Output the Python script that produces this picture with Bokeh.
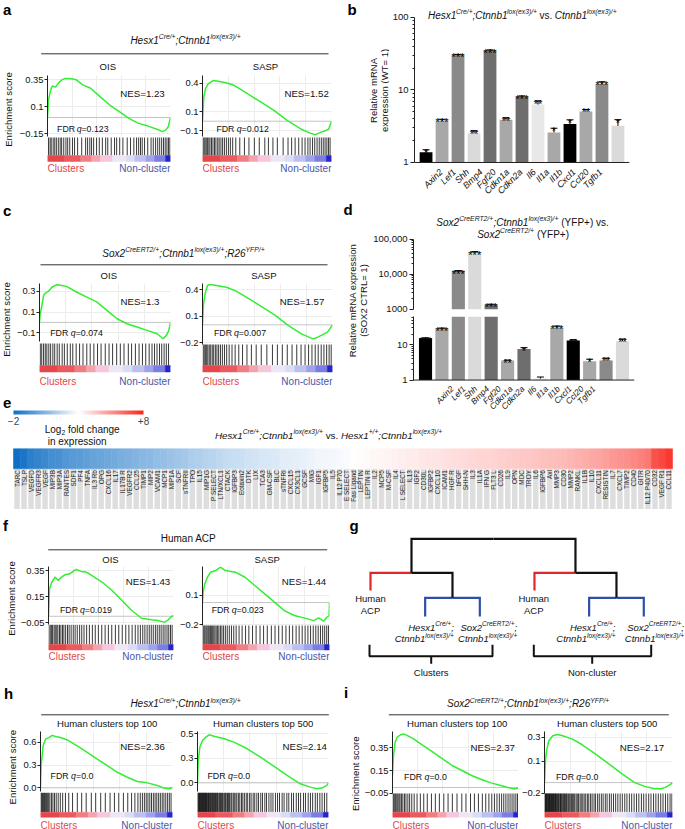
import math
from bokeh.plotting import figure
from bokeh.models import (Range1d, FactorRange, FixedTicker, Label, LabelSet, Span, Whisker,
                          TeeHead, ColumnDataSource, LinearColorMapper, ColorBar, LinearScale)
from bokeh.layouts import row, column
from bokeh.embed import file_html
from bokeh.resources import INLINE
from bokeh.core.properties import value

# ============================== DATA ==============================
GENES = ["Axin2", "Lef1", "Shh", "Bmp4", "Fgf20", "Cdkn1a", "Cdkn2a", "Il6", "Il1a", "Il1b", "Cxcl1", "Ccl20", "Tgfb1"]
GENE_GREYS = ["#000000", "#a8a8a8", "#8a8a8a", "#dadada", "#6e6e6e", "#a8a8a8", "#6e6e6e",
              "#e8e8e8", "#a8a8a8", "#000000", "#a8a8a8", "#8a8a8a", "#dadada"]

# panel b  (relative mRNA expression, WT = 1)
B_MEAN = [1.39, 3.8, 30.6, 2.54, 35.0, 3.88, 8.1, 6.3, 2.6, 3.4, 5.05, 12.2, 3.2]
B_UPPER = [1.5, 3.95, 31.0, 2.75, 35.8, 4.15, 8.3, 7.1, 2.97, 3.88, 5.4, 13.0, 3.9]
B_SIG = ["*", "***", "***", "**", "***", "**", "***", "**", "*", "*", "**", "***", "*"]
B_TICKS = [1, 10, 100]
B_TICK_LABELS = ["1", "10", "100"]
B_MINOR = [2, 3, 4, 5, 6, 7, 8, 9, 20, 30, 40, 50, 60, 70, 80, 90]

# panel d  (relative mRNA expression, SOX2 CTRL = 1)
D_MEAN = [15.2, 28.9, 12700, 44200, 1350, 3.6, 7.55, 1.1, 30.8, 13.2, 3.4, 3.6, 12.6]
D_UPPER = [15.8, 29.8, 12800, 44600, 1400, 3.7, 8.3, 1.22, 34.0, 14.0, 3.9, 4.2, 14.6]
D_SIG = ["***", "***", "***", "***", "***", "**", "*", "", "***", "**", "*", "**", "**"]
D_TICKS_HIGH = [1000, 10000, 100000]
D_LABELS_HIGH = ["1000", "10,000", "100,000"]
D_MINOR_HIGH = [2000, 3000, 4000, 5000, 6000, 7000, 8000, 9000,
                20000, 30000, 40000, 50000, 60000, 70000, 80000, 90000]
D_TICKS_LOW = [1, 10]
D_LABELS_LOW = ["1", "10"]
D_MINOR_LOW = [2, 3, 4, 5, 6, 7, 8, 9, 20, 30, 40, 50, 60]

# panel e  (log2 fold change)
E_LABELS = ["TARC", "TSLP", "VEGFD", "VEGFR3", "VEGF", "MIP3B", "MIP3A", "RANTES", "SDF1", "PF4",
            "TNFA", "IL3 Rb", "OPG", "CXCL16", "IL17", "IL17B R", "VEGFR2", "CCL25", "TIMP1", "MIP2",
            "VCAM1", "MCP1", "MIP1A", "SCF", "sTNFRII", "TPO", "IL15", "MIP1G", "P SELECT", "LTN/XCL1",
            "CTACK", "IGFBP3", "Eotaxin2", "DTK", "LIX", "TCA3", "GM-CSF", "BLC", "sTNFRI", "CXCL15",
            "CX3CL1", "GCSF", "MIG", "IGF1", "IGFBP5", "IL5", "IL12 P70", "E SELECT",
            "Fas Ligand", "LEPTIN", "LEPTIN R", "IL2", "MCP5", "M-CSF", "IL4", "L SELECT", "IL13", "IGF2",
            "CD30L", "IGFBP2", "CXCL10", "ICAM1", "HGF R", "bFGF", "SHH-N", "IL3", "IL1A", "IFN G",
            "FLT3 L", "CD26", "IL9", "OPN", "MDC", "TROY", "IL6", "IGFBP6", "Axl", "MMP3", "CD30",
            "MMP2", "RANKL", "IL1B", "IL10", "CXCL11", "RESISTIN", "IL7", "CXCL7", "TIMP2", "CD40",
            "GITR", "IL12 P40/70", "CD32", "VEGF R1", "CCL11"]
E_LOG2FC = [-2.0, -1.75, -1.4, -1.25, -1.1, -0.9, -0.8, -0.6, -0.5, -0.4, -0.3, -0.2, -0.1, 0.0,
            0.1, 0.2, 0.3, 0.4, 0.5, 0.6, 0.7, 0.8, 0.9, 1.0, 1.1, 1.25, 1.35, 1.45, 1.55, 1.65,
            1.75, 1.85, 1.9, 2.0, 2.05, 2.15, 2.2, 2.25, 2.35, 2.4, 2.45, 2.5, 2.6, 2.65, 2.7, 2.75,
            2.8, 2.85,
            3.05, 3.1, 3.15, 3.2, 3.25, 3.3, 3.35, 3.4, 3.45, 3.5, 3.55, 3.6, 3.65, 3.7, 3.75, 3.8,
            3.85, 3.9, 3.95, 4.0, 4.05, 4.1, 4.15, 4.2, 4.25, 4.3, 4.35, 4.45, 4.5, 4.55, 4.6, 4.7,
            4.8, 4.9, 5.0, 5.1, 5.25, 5.4, 5.5, 5.6, 5.75, 5.9, 6.1, 7.0, 7.25, 7.6]
E_LOW, E_HIGH = -2, 8
E_TICKS = [-2, 8]
E_TICK_LABELS = ["\u22122", "+8"]

# GSEA running enrichment scores: rank (% of list) and ES
A_OIS_RANK = [0, 0.8, 2.6, 3.9, 6.5, 9.1, 11.7, 14.3, 19.5, 23.4, 28.6, 35.1, 42.9, 50.6, 58.4, 66.2, 74.0, 81.8, 89.6, 93.5, 96.1, 98.2, 100]
A_OIS_ES = [0.0, 0.16, 0.254, 0.29, 0.28, 0.32, 0.347, 0.36, 0.356, 0.347, 0.30, 0.27, 0.19, 0.115, 0.054, -0.008, -0.054, -0.079, -0.11, -0.13, -0.116, -0.085, 0.0]
A_SASP_RANK = [0, 1.0, 2.3, 4.4, 8.2, 12.1, 19.7, 24.9, 35.1, 45.4, 55.6, 65.9, 76.2, 83.8, 87.7, 91.5, 95.4, 97.9, 100]
A_SASP_ES = [0.0, 0.252, 0.34, 0.393, 0.428, 0.421, 0.40, 0.375, 0.287, 0.20, 0.111, 0.006, -0.082, -0.128, -0.142, -0.118, -0.10, -0.082, 0.0]
C_OIS_RANK = [0, 0.5, 1.8, 3.1, 4.3, 6.9, 9.4, 13.3, 17.1, 20.9, 28.6, 36.2, 43.9, 51.5, 59.2, 66.8, 74.5, 82.1, 89.8, 94.4, 96.9, 98.7, 100]
C_OIS_ES = [0.0, 0.08, 0.16, 0.26, 0.28, 0.30, 0.338, 0.363, 0.354, 0.344, 0.29, 0.243, 0.195, 0.115, 0.035, -0.013, -0.045, -0.077, -0.109, -0.157, -0.125, -0.077, 0.0]
C_SASP_RANK = [0, 0.8, 2.0, 3.8, 5.8, 10.8, 18.3, 25.9, 35.9, 46.0, 56.0, 66.1, 76.1, 84.9, 88.7, 92.5, 96.2, 100]
C_SASP_ES = [0.0, 0.238, 0.351, 0.445, 0.457, 0.445, 0.426, 0.381, 0.294, 0.2, 0.106, -0.008, -0.102, -0.159, -0.14, -0.11, -0.083, 0.0]
F_OIS_RANK = [0, 0.8, 2.6, 5.2, 7.8, 10.4, 13.1, 17.0, 19.6, 22.2, 26.1, 30.0, 32.6, 37.9, 43.1, 50.9, 58.7, 66.6, 74.4, 82.2, 87.5, 92.7, 95.3, 97.9, 100]
F_OIS_ES = [0.0, 0.21, 0.26, 0.30, 0.274, 0.30, 0.317, 0.325, 0.343, 0.358, 0.343, 0.338, 0.325, 0.292, 0.26, 0.197, 0.12, 0.044, -0.015, -0.027, -0.032, -0.045, -0.032, -0.006, 0.007]
F_SASP_RANK = [0, 0.5, 1.8, 3.9, 6.4, 10.3, 14.2, 18.0, 25.8, 33.5, 41.2, 49.0, 56.7, 64.4, 72.2, 79.9, 87.6, 91.5, 95.4, 97.9, 99.7, 100]
F_SASP_ES = [0.0, 0.084, 0.151, 0.205, 0.246, 0.259, 0.286, 0.259, 0.246, 0.205, 0.138, 0.07, 0.003, -0.065, -0.105, -0.124, -0.146, -0.124, -0.151, -0.119, -0.105, 0.0]
H_100_RANK = [0, 0.3, 0.5, 2.0, 3.8, 6.3, 8.9, 11.4, 15.2, 20.3, 27.8, 35.4, 43.0, 50.6, 58.2, 65.8, 73.4, 81.0, 88.6, 93.7, 97.5, 100]
H_100_ES = [0.0, 0.2, 0.29, 0.552, 0.64, 0.66, 0.69, 0.674, 0.661, 0.63, 0.552, 0.465, 0.378, 0.291, 0.204, 0.139, 0.083, 0.065, 0.03, -0.004, -0.013, 0.004]
H_500_RANK = [0, 0.5, 1.8, 3.8, 6.3, 8.9, 12.7, 20.3, 27.8, 38.0, 48.1, 58.2, 68.4, 78.5, 86.1, 91.1, 94.9, 98.7, 100]
H_500_ES = [0.0, 0.21, 0.364, 0.432, 0.466, 0.49, 0.476, 0.449, 0.415, 0.347, 0.262, 0.17, 0.075, -0.01, -0.044, -0.061, -0.054, -0.027, 0.0]
I_100_RANK = [0, 0.8, 2.1, 3.8, 6.4, 9.0, 11.5, 16.7, 24.4, 32.1, 39.7, 47.4, 55.1, 62.8, 70.5, 78.2, 85.9, 91.0, 96.2, 100]
I_100_ES = [0.106, 0.282, 0.4, 0.444, 0.465, 0.471, 0.459, 0.429, 0.37, 0.312, 0.253, 0.194, 0.15, 0.106, 0.071, 0.041, 0.018, 0.003, -0.012, -0.006]
I_500_RANK = [0, 0.3, 0.8, 1.8, 3.3, 6.4, 10.3, 14.1, 21.8, 29.5, 39.7, 50.0, 60.3, 70.5, 78.2, 85.9, 91.0, 94.9, 98.7, 100]
I_500_ES = [0.0, 0.05, 0.15, 0.22, 0.275, 0.31, 0.318, 0.31, 0.287, 0.25, 0.19, 0.125, 0.06, 0.0, -0.025, -0.04, -0.04, -0.03, -0.01, 0.0]

# GSEA gene-set hit positions (rank %)
A_OIS_HITS = [0.8, 2.1, 3.0, 4.6, 5.9, 7.2, 8.8, 10.3, 11.5, 13.2, 15.0, 16.4, 18.1, 20.3, 22.0, 24.5, 27.8, 31.0, 32.6, 34.4, 35.8, 37.5, 39.9, 42.1, 44.6, 47.3, 49.0, 51.8, 54.5, 56.2, 58.7, 61.3, 64.8, 67.5, 70.2, 72.4, 74.1, 75.6, 77.0, 78.9, 81.5, 84.2, 86.0, 87.9, 89.6, 91.2, 92.8, 94.3, 95.7, 97.1, 98.4, 99.5]
A_SASP_HITS = [0.4, 1.2, 2.0, 2.9, 3.8, 4.9, 5.8, 7.0, 8.1, 9.3, 10.4, 11.8, 12.9, 14.3, 15.6, 17.0, 18.5, 20.1, 21.6, 23.4, 25.8, 28.9, 32.5, 36.0, 40.2, 44.0, 48.3, 51.1, 54.6, 58.0, 62.5, 66.3, 69.1, 71.8, 74.6, 77.2, 79.5, 81.7, 83.4, 85.3, 87.0, 88.8, 90.5, 92.1, 93.6, 95.0, 96.4, 97.7, 98.9]
C_OIS_HITS = [0.6, 1.7, 3.1, 4.4, 5.6, 7.1, 8.5, 10.2, 11.6, 13.5, 15.1, 17.3, 19.0, 21.2, 23.5, 25.4, 28.0, 30.6, 33.2, 36.1, 38.7, 41.5, 44.3, 47.0, 50.2, 53.1, 55.8, 58.9, 61.7, 64.5, 67.8, 70.3, 73.2, 76.0, 78.6, 81.1, 83.7, 85.9, 87.8, 89.7, 91.6, 93.3, 95.1, 96.8, 98.5]
C_SASP_HITS = [0.5, 1.3, 2.2, 3.2, 4.1, 5.2, 6.3, 7.5, 8.6, 9.9, 11.1, 12.4, 13.8, 15.3, 16.9, 18.6, 20.5, 22.7, 25.1, 27.9, 30.8, 34.2, 37.6, 41.3, 45.2, 49.5, 53.8, 57.6, 61.4, 65.2, 68.9, 72.5, 75.8, 78.9, 81.6, 84.2, 86.7, 89.0, 91.3, 93.4, 95.5, 97.4, 99.0]
F_OIS_HITS = [0.4, 1.4, 2.5, 3.3, 4.5, 5.4, 6.6, 7.5, 8.8, 9.9, 11.2, 12.3, 13.7, 15.2, 16.5, 18.1, 19.8, 21.3, 23.0, 24.9, 26.6, 28.4, 30.5, 32.7, 35.1, 37.4, 39.9, 42.6, 45.3, 47.9, 50.6, 53.5, 56.2, 59.0, 61.8, 64.3, 66.9, 69.4, 71.6, 73.5, 75.4, 77.1, 78.9, 80.6, 82.2, 83.8, 85.5, 87.0, 88.6, 90.1, 91.7, 93.2, 94.8, 96.2, 97.6, 98.9]
F_SASP_HITS = [0.3, 1.1, 1.9, 2.8, 3.6, 4.5, 5.3, 6.2, 7.0, 8.0, 8.9, 9.8, 10.8, 11.9, 12.9, 14.1, 15.3, 16.6, 18.0, 19.5, 21.1, 22.8, 24.6, 26.5, 28.8, 31.2, 33.9, 36.5, 39.4, 42.2, 45.3, 48.1, 51.0, 54.2, 57.1, 60.0, 62.8, 65.7, 68.4, 71.0, 73.7, 76.1, 78.5, 80.8, 83.0, 85.1, 87.2, 89.2, 91.1, 92.9, 94.6, 96.2, 97.8, 99.2]
H_100_HITS = [0.3, 0.9, 1.6, 2.2, 3.0, 3.7, 4.5, 5.4, 6.2, 7.1, 8.3, 9.4, 10.6, 11.9, 13.4, 15.0, 16.8, 18.9, 21.4, 24.3, 27.9, 31.2, 34.6, 38.5, 41.8, 45.6, 49.1, 52.7, 56.0, 59.3, 62.8, 66.1, 69.0, 71.5, 73.8, 75.6, 77.2, 78.7, 80.1, 81.4, 82.8, 84.1, 85.5, 86.8, 88.1, 89.5, 90.8, 92.2, 93.5, 94.9, 96.3, 97.6, 98.9]
H_500_HITS = [0.2, 0.6, 1.1, 1.5, 2.0, 2.4, 2.9, 3.3, 3.8, 4.3, 4.7, 5.2, 5.6, 6.1, 6.6, 7.0, 7.5, 8.1, 8.5, 9.0, 9.6, 10.1, 10.5, 11.2, 11.7, 12.1, 12.8, 13.3, 13.8, 14.6, 15.1, 15.6, 16.4, 17.0, 17.5, 18.4, 19.0, 19.6, 20.5, 21.3, 21.9, 22.9, 23.6, 24.4, 25.5, 26.2, 27.3, 28.1, 29.3, 30.1, 31.4, 32.3, 33.6, 34.6, 35.8, 37.2, 38.3, 39.8, 40.9, 42.5, 43.7, 45.3, 46.6, 48.3, 49.6, 51.4, 52.7, 54.5, 56.1, 57.6, 59.5, 61.1, 62.6, 64.6, 66.1, 68.2, 69.7, 71.8, 73.3, 75.4, 77.1, 78.7, 80.9, 82.4, 84.5, 86.2, 87.9, 89.9, 91.5, 93.4, 95.1, 96.9, 98.7]
I_100_HITS = [0.4, 1.1, 1.9, 2.6, 3.5, 4.3, 5.2, 6.0, 7.1, 8.2, 9.5, 10.7, 12.2, 13.6, 15.3, 17.2, 19.5, 22.1, 24.8, 27.6, 30.9, 34.0, 37.2, 40.7, 44.1, 47.5, 51.2, 55.0, 58.3, 61.9, 65.0, 68.2, 71.3, 74.0, 76.5, 78.8, 80.9, 82.9, 84.8, 86.6, 88.3, 90.0, 91.7, 93.3, 94.9, 96.4, 97.9, 99.2]
I_500_HITS = [0.2, 0.7, 1.1, 1.6, 2.0, 2.5, 3.0, 3.4, 3.9, 4.3, 4.8, 5.3, 5.7, 6.2, 6.7, 7.1, 7.7, 8.2, 8.6, 9.2, 9.7, 10.3, 10.8, 11.3, 12.0, 12.5, 13.1, 13.7, 14.4, 15.0, 15.7, 16.3, 17.1, 17.7, 18.6, 19.3, 20.1, 21.0, 21.8, 22.8, 23.6, 24.7, 25.6, 26.6, 27.8, 28.7, 29.9, 31.0, 32.2, 33.5, 34.6, 36.0, 37.2, 38.7, 39.9, 41.5, 42.8, 44.4, 45.8, 47.5, 48.9, 50.7, 52.2, 53.9, 55.6, 57.3, 59.1, 60.8, 62.7, 64.4, 66.3, 68.1, 70.0, 71.9, 73.7, 75.7, 77.5, 79.4, 81.4, 83.2, 85.2, 87.0, 88.9, 90.8, 92.6, 94.5, 96.3, 98.1, 99.5]

# phenotype colour strip under each barcode (rank % edges and colours)
CB_EDGES = [0, 14, 27, 36, 43, 53, 64, 71, 80, 87, 96, 100]
CB_COLORS = ["#e6454a", "#ea5a5e", "#ef7e82", "#f3a3ad", "#f5c6dc", "#efe6f5",
             "#d9dbf7", "#bcc0f1", "#9ea2ea", "#7a7ee0", "#2424cc"]

# panel g: dendrogram (6 leaves, merges as (left, right, height))
G_LEAF_POS = [0, 1, 2, 3, 4, 5]
G_LEAF_HEIGHT = [0.26, 0.0, 0.0, 0.26, 0.0, 0.0]
G_MERGES = [(1, 2, 0.187), (0, 6, 0.437), (4, 5, 0.187), (3, 8, 0.437), (7, 9, 0.777)]
G_LINK_COLORS = {0: "#e2252b", 3: "#e2252b", 1: "#2c4fa8", 2: "#2c4fa8", 4: "#2c4fa8", 5: "#2c4fa8",
                 6: "#111111", 7: "#111111", 8: "#111111", 9: "#111111"}

# ============================== STYLE / LAYOUT HELPERS ==============================
FONT = "Liberation Sans"
GREEN = "#33ee33"
CL_RED = "#e2464b"
CL_BLUE = "#4a55a8"
XCONV = {}


def R(v):
    return int(round(v))


def fs(v):
    return "%.2fpx" % v


_AW = {' ': 278, '(': 333, ')': 333, '*': 389, '+': 584, ',': 278, '-': 333, '.': 278, '/': 278,
       ';': 278, ':': 278, '=': 584, '\u2212': 584,
       'A': 667, 'B': 667, 'C': 722, 'D': 722, 'E': 667, 'F': 611, 'G': 778, 'H': 722, 'I': 278,
       'J': 500, 'K': 667, 'L': 556, 'M': 833, 'N': 722, 'O': 778, 'P': 667, 'Q': 778, 'R': 722,
       'S': 667, 'T': 611, 'U': 722, 'V': 667, 'W': 944, 'X': 667, 'Y': 667, 'Z': 611,
       'a': 556, 'b': 556, 'c': 500, 'd': 556, 'e': 556, 'f': 278, 'g': 556, 'h': 556, 'i': 222,
       'j': 222, 'k': 500, 'l': 222, 'm': 833, 'n': 556, 'o': 556, 'p': 556, 'q': 556, 'r': 333,
       's': 500, 't': 278, 'u': 556, 'v': 500, 'w': 722, 'x': 500, 'y': 500, 'z': 500}


def tw(t, size):
    return sum(_AW.get(c, 556) for c in t) * size / 1000.0


def make_fig(box, frame=None, x_range=None, y_range=None, **kw):
    x0, y0, x1, y1 = box
    fx0, fy0, fx1, fy1 = frame if frame else box
    if x_range is None:
        x_range = Range1d(fx0, fx1)
    if y_range is None:
        y_range = Range1d(fy1, fy0)
    p = figure(width=R(x1) - R(x0), height=R(y1) - R(y0), x_range=x_range, y_range=y_range,
               toolbar_location=None, output_backend="svg", title=None,
               min_border_left=R(fx0) - R(x0), min_border_right=R(x1) - R(fx1),
               min_border_top=R(fy0) - R(y0), min_border_bottom=R(y1) - R(fy1), **kw)
    if isinstance(x_range, FactorRange):
        n = len(x_range.factors)
        pad = n * x_range.range_padding / 2.0
        s0, s1 = -pad, n + pad
        XCONV[p.id] = (lambda x, s0=s0, s1=s1, a=fx0, b=fx1: s0 + (x - a) * (s1 - s0) / (b - a))
    else:
        p.extra_x_ranges = {"px": Range1d(fx0, fx1)}
        p.extra_x_scales = {"px": LinearScale()}
    p.extra_y_ranges = {"px": Range1d(fy1, fy0)}
    p.extra_y_scales = {"px": LinearScale()}
    p.outline_line_color = None
    p.background_fill_color = "white"
    p.border_fill_color = "white"
    return p


def canvas(box, **kw):
    p = make_fig(box, x_axis_location=None, y_axis_location=None, **kw)
    p.grid.visible = False
    return p


def txt(p, x, y, text, size, align="left", baseline="middle", color="#111111", style="normal", angle=0.0):
    if p.id in XCONV:
        xv, xr = XCONV[p.id](x), "default"
    else:
        xv, xr = x, "px"
    p.add_layout(Label(x=xv, y=y, x_range_name=xr, y_range_name="px", text=text,
                       text_font=FONT, text_font_size=fs(size), text_align=align,
                       text_baseline=baseline, text_color=color, text_font_style=style, angle=angle))


def parse(s, base):
    parts = []
    state = {"mode": "n", "flip": False, "buf": ""}

    def flush():
        if state["buf"]:
            st = base
            if state["flip"]:
                st = "normal" if base == "italic" else "italic"
            parts.append((state["buf"], state["mode"], st))
            state["buf"] = ""
    i = 0
    while i < len(s):
        if s.startswith("^{", i):
            flush(); state["mode"] = "sup"; i += 2
        elif s.startswith("_{", i):
            flush(); state["mode"] = "sub"; i += 2
        elif s[i] == "}":
            flush(); state["mode"] = "n"; i += 1
        elif s[i] == "*":
            flush(); state["flip"] = not state["flip"]; i += 1
        else:
            state["buf"] += s[i]; i += 1
    flush()
    return parts


def rich(p, x, y, s, size, align="center", style="normal", color="#111111"):
    parts = parse(s, style)
    sizes = [size * 0.68 if m != "n" else size for _, m, _ in parts]
    widths = [tw(t, z) for (t, _, _), z in zip(parts, sizes)]
    total = sum(widths)
    cx = x - total / 2.0 if align == "center" else (x - total if align == "right" else x)
    for (t, m, st), z, w in zip(parts, sizes, widths):
        dy = -size * 0.36 if m == "sup" else (size * 0.28 if m == "sub" else 0.0)
        lead = len(t) - len(t.lstrip(" "))
        body = t.strip(" ")
        if body:
            txt(p, cx + tw(" " * lead, z), y + dy, body, z, "left", "middle", color, st)
        cx += w


def header(box, title, title_xy, rule, subs, sub_y, title_style="italic"):
    p = canvas(box)
    rich(p, title_xy[0], title_xy[1], title, 10, "center", style=title_style)
    p.line([rule[0], rule[1]], [rule[2], rule[2]], x_range_name="px", y_range_name="px",
           line_color="#333333", line_width=1)
    for s, x in subs:
        txt(p, x, sub_y, s, 9.5, "center")
    return p


def strip(box, letter, letter_xy, ylab_xy):
    p = canvas(box)
    txt(p, letter_xy[0], letter_xy[1], letter, 15, "left", style="bold", color="black")
    txt(p, ylab_xy[0], ylab_xy[1], "Enrichment score", 9.6, "center", angle=math.pi / 2)
    return p


def es_plot(box, frame, ticks, labels, tick_px, rank, es, hits, es_bot, bar, cbar, lab_y,
            nes, nes_xy, fdr, fdr_xy):
    fx0, fy0, fx1, fy1 = frame
    t0, t1 = ticks[0], ticks[-1]
    p0, p1 = tick_px[0], tick_px[-1]

    def es_at(py):
        return t0 + (py - p0) * (t1 - t0) / (p1 - p0)
    p = make_fig(box, frame, Range1d(0, 100), Range1d(es_at(fy1), es_at(fy0)), x_axis_location=None)
    ax = p.yaxis[0]
    ax.ticker = FixedTicker(ticks=ticks)
    ax.major_label_overrides = {t: l for t, l in zip(ticks, labels)}
    ax.bounds = (es_at(es_bot), es_at(fy0))
    ax.minor_tick_line_color = None
    ax.major_tick_out = 3
    ax.major_tick_in = 0
    ax.major_label_standoff = 1
    ax.major_label_text_font = FONT
    ax.major_label_text_font_size = fs(9.4)
    ax.major_label_text_color = "#111111"
    ax.axis_line_color = "#222222"
    ax.major_tick_line_color = "#222222"
    p.ygrid.ticker = FixedTicker(ticks=ticks)
    p.xgrid.ticker = FixedTicker(ticks=[20, 40, 60, 80])
    p.grid.grid_line_color = "#ececec"
    p.add_layout(Span(location=0, dimension="width", line_color="#c4c4c4", line_width=1, level="underlay"))
    # white area below the running-score region
    p.quad(left=[fx0 - 2], right=[fx1 + 2], top=[es_bot], bottom=[fy1 + 2],
           x_range_name="px", y_range_name="px", fill_color="white", line_color=None)
    p.line(rank, es, line_color=GREEN, line_width=1.5)
    n = len(hits)
    p.segment(x0=hits, x1=hits, y0=[bar[0]] * n, y1=[bar[1]] * n, y_range_name="px",
              line_color="black", line_width=1, line_alpha=0.78)
    k = len(CB_COLORS)
    p.quad(left=CB_EDGES[:-1], right=CB_EDGES[1:], top=[cbar[0]] * k, bottom=[cbar[1]] * k,
           y_range_name="px", fill_color=CB_COLORS, line_color=CB_COLORS, line_width=0.5)
    txt(p, fx0, lab_y, "Clusters", 10, "left", color=CL_RED)
    txt(p, fx1, lab_y, "Non-cluster", 10, "right", color=CL_BLUE)
    txt(p, nes_xy[0], nes_xy[1], nes, 9.7, "right")
    rich(p, fdr_xy[0], fdr_xy[1], fdr, 8.8, "left")
    return p


def style_log_axis(p, ticks, labels, minor, bounds):
    ax = p.yaxis[0]
    ax.ticker = FixedTicker(ticks=ticks, minor_ticks=minor)
    ax.major_label_overrides = {t: l for t, l in zip(ticks, labels)}
    ax.bounds = bounds
    ax.major_tick_out = 4
    ax.major_tick_in = 0
    ax.minor_tick_out = 2
    ax.minor_tick_in = 0
    ax.major_label_standoff = 2
    ax.major_label_text_font = FONT
    ax.major_label_text_font_size = fs(9.5)
    ax.major_label_text_color = "#111111"
    ax.axis_line_color = "#222222"
    ax.major_tick_line_color = "#222222"
    ax.minor_tick_line_color = "#222222"
    p.grid.visible = False


def baseline(p):
    p.add_layout(Span(location=1, dimension="width", line_color="#222222", line_width=1))


def label_strip(box, main_frame_x, main_pad, y_anchor, size):
    """Gene names under a bar chart: factor centres aligned with the chart above."""
    a, b = main_frame_x
    n = len(GENES)
    cell = (b - a) / (n * (1 + main_pad))
    first_edge = a + (n * main_pad / 2.0) * cell
    pad_cells = (first_edge - box[0]) / cell
    fx1 = first_edge + (n + pad_cells) * cell
    p = make_fig(box, (box[0], box[1], fx1, box[3]),
                 FactorRange(factors=GENES, range_padding=2 * pad_cells / n), None,
                 x_axis_location=None, y_axis_location=None)
    p.grid.visible = False
    src = ColumnDataSource(dict(g=GENES, y=[y_anchor] * n))
    p.add_layout(LabelSet(x="g", y="y", text="g", source=src, y_range_name="px", angle=math.pi / 4,
                          text_align="right", text_baseline="middle", x_offset=-1,
                          text_font=value(FONT), text_font_size=value(fs(size)),
                          text_font_style="italic", text_color="#111111"))
    return p


def err_and_stars(p, genes, mean, upper, sig):
    src = ColumnDataSource(dict(g=genes, lo=mean, hi=upper))
    p.add_layout(Whisker(source=src, base="g", lower="lo", upper="hi", dimension="height",
                         line_color="black", line_width=1, level="annotation",
                         upper_head=TeeHead(size=7, line_width=1, line_color="black"), lower_head=None))
    p.text(x=genes, y=upper, text=sig, text_align="center", text_baseline="alphabetic", y_offset=3,
           text_font=value(FONT), text_font_size=value(fs(11)), text_color="black")


# ============================== PANEL A ==============================
TITLE_HESX = "Hesx1^{Cre/+};Ctnnb1^{lox(ex3)/+}"
TITLE_SOX = "Sox2^{CreERT2/+};Ctnnb1^{lox(ex3)/+};R26^{YFP/+}"

st_a = strip((0, 0, 16, 195), "a", (2.5, 8.5), (7.5, 109))
hdr_a = header((16, 0, 338, 71), TITLE_HESX, (185, 40), (40.7, 328, 53.3),
               [("OIS", 107.3), ("SASP", 265)], 65.7)
es_a1 = es_plot((16, 71, 176, 195), (41.7, 75, 170, 195), [-0.15, 0.1, 0.35],
                ["\u22120.15", "0.1", "0.35"], [133.3, 106.7, 79], A_OIS_RANK, A_OIS_ES, A_OIS_HITS,
                136, (137, 155), (155, 161), 167.5, "NES=1.23", (164, 93.3), "FDR *q*=0.123",
                (51.7, 128.3))
es_a2 = es_plot((176, 71, 338, 195), (201, 75, 331, 195), [-0.1, 0.1, 0.4],
                ["\u22120.1", "0.1", "0.4"], [130.2, 111.2, 82.7], A_SASP_RANK, A_SASP_ES, A_SASP_HITS,
                135.5, (137, 155), (155, 161), 167.5, "NES=1.52", (328.3, 93.3), "FDR *q*=0.012",
                (215, 128.3))
col_a = row(st_a, column(hdr_a, row(es_a1, es_a2)))

# ============================== PANEL B ==============================
b_lab = canvas((338, 0, 389, 195))
txt(b_lab, 347, 8.5, "b", 15, "left", style="bold", color="black")
txt(b_lab, 372.5, 90, "Relative mRNA", 9.5, "center", angle=math.pi / 2)
txt(b_lab, 383.5, 90, "expression (WT= 1)", 9.5, "center", angle=math.pi / 2)
B_FRAME_X, B_PAD = (411, 628.8), 0.0342
pb = make_fig((389, 0, 685, 167), (B_FRAME_X[0], 6, B_FRAME_X[1], 167),
              FactorRange(factors=GENES, range_padding=B_PAD), Range1d(0.853, 141.8),
              y_axis_type="log", x_axis_location=None)
style_log_axis(pb, B_TICKS, B_TICK_LABELS, B_MINOR, (1, 100))
baseline(pb)
pb.vbar(x=GENES, top=B_MEAN, bottom=1, width=0.8, fill_color=GENE_GREYS, line_color=None)
err_and_stars(pb, GENES, B_MEAN, B_UPPER, B_SIG)
rich(pb, 520, 15, "Hesx1^{Cre/+};Ctnnb1^{lox(ex3)/+}* vs. *Ctnnb1^{lox(ex3)/+}", 10, "center", style="italic")
b_names = label_strip((389, 167, 685, 195), B_FRAME_X, B_PAD, 170, 9)
row_b = row(b_lab, column(pb, b_names))

# ============================== PANEL C ==============================
st_c = strip((0, 195, 13, 410), "c", (2.5, 210), (5.5, 319))
txt(st_c, 2.5, 402.5, "e", 15, "left", style="bold", color="black")   # letter of panel e
hdr_c = header((13, 195, 338, 281), TITLE_SOX, (183, 253), (40, 327, 264.3),
               [("OIS", 108.3), ("SASP", 263.3)], 275)
es_c1 = es_plot((13, 281, 176, 410), (39.3, 283, 170, 410), [-0.1, 0.1, 0.3],
                ["\u22120.1", "0.1", "0.3"], [332.3, 311.7, 290.7], C_OIS_RANK, C_OIS_ES, C_OIS_HITS,
                341, (343, 365), (365, 371.5), 381, "NES=1.3", (159, 301), "FDR *q*=0.074",
                (50, 332.7))
es_c2 = es_plot((176, 281, 338, 410), (199, 283, 331.7, 410), [-0.2, 0.1, 0.4],
                ["\u22120.2", "0.1", "0.4"], [342, 315.5, 289], C_SASP_RANK, C_SASP_ES, C_SASP_HITS,
                343.5, (344, 365), (365, 371.5), 381, "NES=1.57", (323.3, 301), "FDR *q*=0.007",
                (210.7, 332.3))
col_c = row(st_c, column(hdr_c, row(es_c1, es_c2)))

# ============================== PANEL D ==============================
d_lab = canvas((338, 195, 370, 410))
txt(d_lab, 343, 209.3, "d", 15, "left", style="bold", color="black")
txt(d_lab, 351.5, 300, "Relative mRNA expression", 9.5, "center", angle=math.pi / 2)
txt(d_lab, 363.3, 300, "(SOX2 CTRL= 1)", 9.5, "center", angle=math.pi / 2)

hi_sel = [i for i, m in enumerate(D_MEAN) if m > 1000]
lo_sel = [i for i, m in enumerate(D_MEAN) if m <= 1000]
D_FRAME_X, D_PAD = (413, 633.8), 0.0357

d_up = make_fig((370, 195, 685, 314.5), (D_FRAME_X[0], 195, D_FRAME_X[1], 314.5),
                FactorRange(factors=GENES, range_padding=D_PAD), Range1d(711, 1786000),
                y_axis_type="log", x_axis_location=None)
style_log_axis(d_up, D_TICKS_HIGH, D_LABELS_HIGH, D_MINOR_HIGH, (1000, 100000))
d_up.vbar(x=[GENES[i] for i in hi_sel], top=[D_MEAN[i] for i in hi_sel], bottom=1000, width=0.8,
          fill_color=[GENE_GREYS[i] for i in hi_sel], line_color=None)
err_and_stars(d_up, [GENES[i] for i in hi_sel], [D_MEAN[i] for i in hi_sel],
              [D_UPPER[i] for i in hi_sel], [D_SIG[i] for i in hi_sel])
rich(d_up, 522, 222, "Sox2^{CreERT2/+};Ctnnb1^{lox(ex3)/+}* (YFP+) vs.*", 10, "center", style="italic")
rich(d_up, 522.5, 234, "Sox2^{CreERT2/+}* (YFP+)*", 10, "center", style="italic")

d_low = make_fig((370, 314.5, 685, 384.5), (D_FRAME_X[0], 315.7, D_FRAME_X[1], 384.5),
                 FactorRange(factors=GENES, range_padding=D_PAD), Range1d(0.748, 63.2),
                 y_axis_type="log", x_axis_location=None)
style_log_axis(d_low, D_TICKS_LOW, D_LABELS_LOW, D_MINOR_LOW, (1, 63.2))
baseline(d_low)
d_low.vbar(x=GENES, top=D_MEAN, bottom=1, width=0.8, fill_color=GENE_GREYS, line_color=None)
err_and_stars(d_low, [GENES[i] for i in lo_sel], [D_MEAN[i] for i in lo_sel],
              [D_UPPER[i] for i in lo_sel], [D_SIG[i] for i in lo_sel])
d_names = label_strip((370, 384.5, 685, 410), D_FRAME_X, D_PAD, 387.3, 8.4)
row_d = row(d_lab, column(d_up, d_low, d_names))

# ============================== PANEL E ==============================
def _mix(c1, c2, f):
    return "#%02x%02x%02x" % tuple(int(round(a + (b - a) * f)) for a, b in zip(c1, c2))


_BLUE, _WHITE, _RED = (16, 110, 196), (255, 255, 255), (248, 40, 30)
E_PALETTE = [_mix(_BLUE, _WHITE, i / 127.0) for i in range(128)] + \
            [_mix(_WHITE, _RED, i / 127.0) for i in range(128)]
mapper = LinearColorMapper(palette=E_PALETTE, low=E_LOW, high=E_HIGH)

NE = len(E_LABELS)
CELL = (672.0 - 13.0) / NE
pe = make_fig((0, 410, 685, 512), x_range=Range1d(-13.0 / CELL, NE + 13.0 / CELL),
              x_axis_location=None, y_axis_location=None)
pe.grid.visible = False
esrc = ColumnDataSource(dict(x=[i + 0.5 for i in range(NE)], v=E_LOG2FC, lab=E_LABELS,
                             y=[458.3] * NE, gy=[488.4] * NE, ly=[469.6] * NE))
pe.rect(x="x", y="gy", width=0.78, height=40, source=esrc, y_range_name="px",
        fill_color="#dedede", line_color=None)
pe.rect(x="x", y="y", width=1, height=20, source=esrc, y_range_name="px",
        fill_color={"field": "v", "transform": mapper}, line_color={"field": "v", "transform": mapper},
        line_width=0.6)
pe.text(x="x", y="ly", text="lab", source=esrc, y_range_name="px", angle=math.pi / 2,
        text_align="right", text_baseline="middle", text_font=value(FONT),
        text_font_size=value(fs(6.4)), text_color="#222222")
cb = ColorBar(color_mapper=mapper, orientation="horizontal", location=(13, 85),
              width=130, height=4, padding=0, margin=0, title=None,
              ticker=FixedTicker(ticks=E_TICKS),
              major_label_overrides={t: l for t, l in zip(E_TICKS, E_TICK_LABELS)},
              major_label_text_font=FONT, major_label_text_font_size=fs(10),
              major_tick_line_color=None, bar_line_color=None, label_standoff=2,
              background_fill_color=None, border_line_color=None)
pe.add_layout(cb, "center")
rich(pe, 81.7, 429.3, "Log_{2} fold change", 10, "center")
txt(pe, 76.7, 440.7, "in expression", 10, "center")
rich(pe, 328, 435, "Hesx1^{Cre/+};Ctnnb1^{lox(ex3)/+}* vs. *Hesx1^{+/+};Ctnnb1^{lox(ex3)/+}",
     9.8, "center", style="italic")

# ============================== PANEL F ==============================
st_f = strip((0, 512, 17, 677), "f", (2.5, 525), (11.2, 598))
hdr_f = header((17, 512, 338, 565), "Human ACP", (188, 538.3), (47.7, 326.7, 549.3),
               [("OIS", 110), ("SASP", 266.7)], 559.3, title_style="normal")
es_f1 = es_plot((17, 565, 176, 677), (45, 566, 172.7, 677), [-0.05, 0.15, 0.35],
                ["\u22120.05", "0.15", "0.35"], [622.3, 596, 570], F_OIS_RANK, F_OIS_ES, F_OIS_HITS,
                624, (624.3, 644), (644, 649.5), 655.5, "NES=1.43", (169.3, 580.7), "FDR *q*=0.019",
                (56.7, 609.3))
es_f2 = es_plot((176, 565, 338, 677), (200, 566, 329.3, 677), [-0.18, 0.06, 0.3],
                ["\u22120.2", "0.1", "0.3"], [624.3, 594.7, 565], F_SASP_RANK, F_SASP_ES, F_SASP_HITS,
                625, (625, 644), (644, 649.5), 655.5, "NES=1.44", (326, 580.7), "FDR *q*=0.023",
                (209.3, 609.3))
col_f = row(st_f, column(hdr_f, row(es_f1, es_f2)))

# ============================== PANEL G ==============================
G_PX0, G_STEP = 370.0, 54.66
pg = make_fig((338, 512, 685, 677), x_range=Range1d(-(G_PX0 - 338) / G_STEP, 5 + (685 - 643.3) / G_STEP),
              y_range=Range1d(-0.61, 1.04), x_axis_location=None, y_axis_location=None)
pg.grid.visible = False
node_x = {i: float(x) for i, x in enumerate(G_LEAF_POS)}
node_h = {i: h for i, h in enumerate(G_LEAF_HEIGHT)}
gx, gy, gc = [], [], []
for k, (a, b, h) in enumerate(G_MERGES):
    nid = len(G_LEAF_POS) + k
    xm = (node_x[a] + node_x[b]) / 2.0
    for c in (a, b):
        gx.append([node_x[c], node_x[c], xm])
        gy.append([node_h[c], h, h])
        gc.append(G_LINK_COLORS[c])
    node_x[nid] = xm
    node_h[nid] = h
pg.multi_line(gx, gy, line_color=gc, line_width=2.2, line_join="miter")
txt(pg, 349, 525, "g", 15, "left", style="bold", color="black")
for xl in (370, 533.3):
    txt(pg, xl, 597.5, "Human", 9.5, "center")
    txt(pg, xl, 609.5, "ACP", 9.5, "center")
for xr, lab in ((453.3, "Hesx1^{Cre/+};"), (516.7, "Sox2^{CreERT2/+};"),
                (615, "Hesx1^{Cre/+};"), (683.5, "Sox2^{CreERT2/+};")):
    rich(pg, xr, 626.7, lab, 9.5, "right", style="italic")
    rich(pg, xr, 638.3, "Ctnnb1^{lox(ex3)/+}", 9.5, "right", style="italic")
pg.multi_line([[369, 369, 492, 492], [430.7, 430.7], [533.3, 533.3, 650.7, 650.7], [591.7, 591.7]],
              [[644.3, 655.7, 655.7, 644.3], [655.7, 663.3], [644.3, 655.7, 655.7, 644.3], [655.7, 663.3]],
              x_range_name="px", y_range_name="px", line_color="#111111", line_width=2)
txt(pg, 430.7, 672.3, "Clusters", 9.5, "center")
txt(pg, 591.7, 672.3, "Non-cluster", 9.5, "center")

# ============================== PANEL H ==============================
st_h = strip((0, 677, 18, 829), "h", (3.5, 693), (12.3, 766.7))
hdr_h = header((18, 677, 338, 729), TITLE_HESX, (185, 703.3), (40.7, 328.3, 714.3),
               [("Human clusters top 100", 106.7), ("Human clusters top 500", 262.7)], 722.7)
es_h1 = es_plot((18, 729, 176, 829), (40, 731, 171.7, 829), [0.0, 0.3, 0.6],
                ["0.0", "0.3", "0.6"], [787.3, 764.3, 741.7], H_100_RANK, H_100_ES, H_100_HITS,
                791, (792.3, 811.7), (811.7, 816.7), 824.5, "NES=2.36", (164, 746), "FDR *q*=0.0",
                (50, 775))
es_h2 = es_plot((176, 729, 338, 829), (196.7, 731, 328.3, 829), [0.0, 0.25, 0.5],
                ["0.0", "0.3", "0.5"], [782.3, 757.8, 733.3], H_500_RANK, H_500_ES, H_500_HITS,
                791, (792.3, 811.7), (811.7, 816.7), 824.5, "NES=2.14", (326.7, 746), "FDR *q*=0.0",
                (206.7, 775))
col_h = row(st_h, column(hdr_h, row(es_h1, es_h2)))

# ============================== PANEL I ==============================
st_i = strip((338, 677, 361, 829), "i", (343.5, 692.3), (355, 773.3))
hdr_i = header((361, 677, 685, 729), TITLE_SOX, (527.7, 703.3), (388.3, 668.3, 714.3),
               [("Human clusters top 100", 456.7), ("Human clusters top 500", 606.7)], 722.7)
es_i1 = es_plot((361, 729, 518, 829), (391.7, 731, 518, 829), [-0.05, 0.15, 0.35],
                ["\u22120.05", "0.15", "0.35"], [792.7, 769.7, 747.3], I_100_RANK, I_100_ES, I_100_HITS,
                792.5, (793, 811.7), (811.7, 816.7), 824.5, "NES=2.37", (514.5, 746.7), "FDR *q*=0.0",
                (403.3, 776.7))
es_i2 = es_plot((518, 729, 685, 829), (541.7, 731, 671.7, 829), [-0.07, 0.14, 0.3],
                ["\u22120.2", "0.1", "0.3"], [792.7, 760.7, 736.7], I_500_RANK, I_500_ES, I_500_HITS,
                792.5, (793, 811.7), (811.7, 816.7), 824.5, "NES=2.17", (663.3, 746.7), "FDR *q*=0.0",
                (553.3, 776.7))
col_i = row(st_i, column(hdr_i, row(es_i1, es_i2)))

# ============================== PAGE ==============================
page = column(row(col_a, row_b), row(col_c, row_d), pe, row(col_f, pg), row(col_h, col_i))
open("out.html", "w").write(file_html(page, INLINE))
